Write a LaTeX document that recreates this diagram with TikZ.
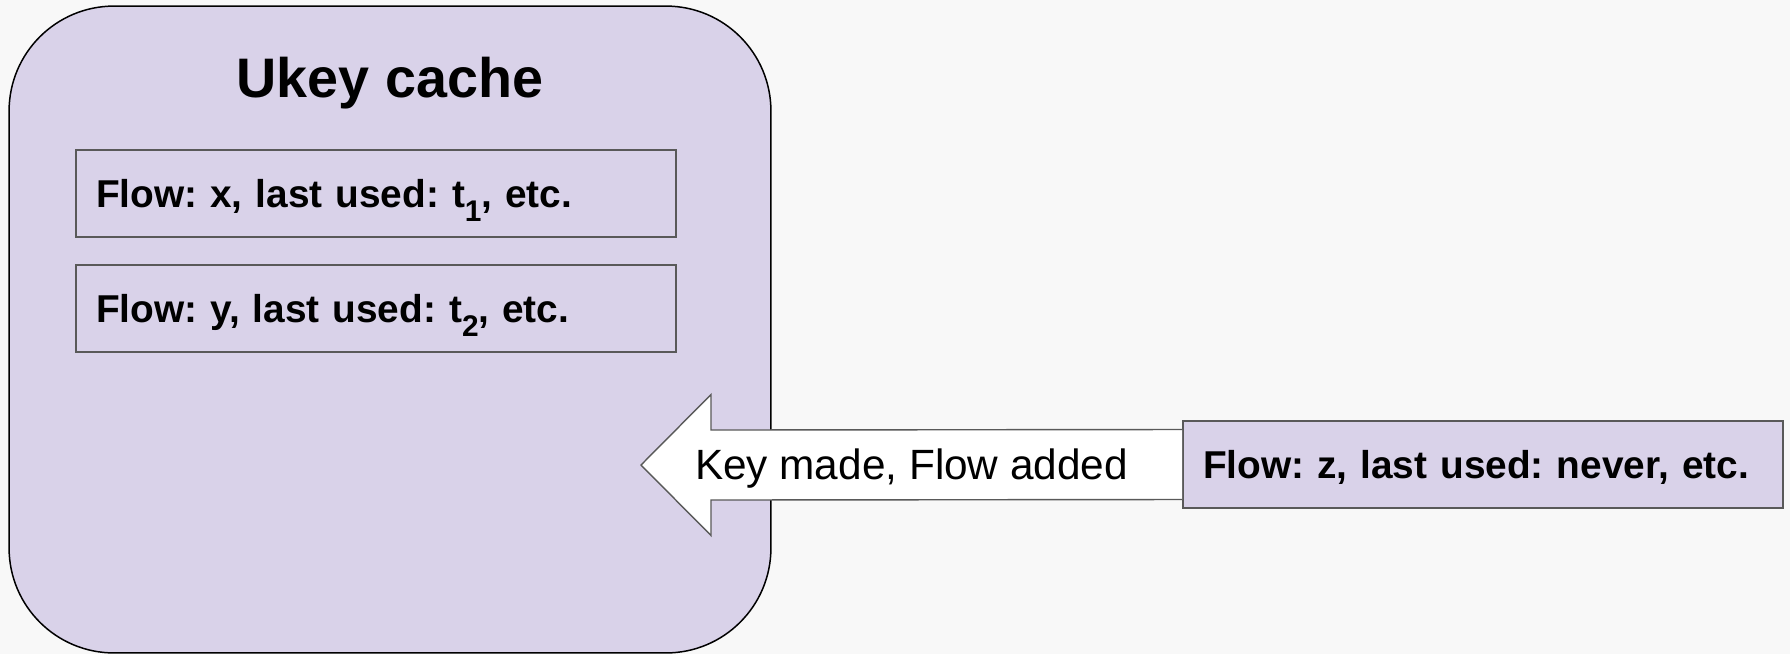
\documentclass[tikz,border=0pt]{standalone}
\usepackage{fontspec}
\setmainfont{Liberation Sans}
\usetikzlibrary{calc}
\definecolor{lavenderuk}{RGB}{217,210,233}
\definecolor{latarabu}{RGB}{248,248,248}
\definecolor{garisabu}{RGB}{89,89,89}
\frenchspacing
% low, fairly large subscript for the time stamps
\newcommand{\subwaktu}[1]{\raisebox{-8.5pt}{\fontsize{17}{18}\selectfont #1}}

\tikzset{
    kotakalir/.style={draw=garisabu, line width=1.1pt, fill=lavenderuk,
        font=\fontsize{22.1}{26}\selectfont\bfseries,
        text width=11.2cm, inner xsep=0.4cm, align=left,
        minimum height=1.74cm, text height=0.7cm, text depth=0.16cm},
    panahblok/.style={draw=garisabu, line width=0.8pt, fill=white}
}

\begin{document}
\begin{tikzpicture}[x=0.02cm, y=-0.02cm, font=\fontsize{22.1}{26}\selectfont]
        \fill[latarabu] (0,0) rectangle (1790,654);
        \useasboundingbox (0,0) rectangle (1790,654);
        % the cache itself
        \node[draw=black, line width=0.85pt, fill=lavenderuk, rounded corners=2.1cm,
              minimum width=15.24cm, minimum height=12.94cm] (cache) at (390,329.5) {};
        \node[anchor=base, font=\fontsize{31.7}{38}\selectfont\bfseries] (judul) at (390,97) {Ukey cache};
        \foreach \y/\teks/\nama in {
            193.5/{Flow: x, last used: t\subwaktu{1}, etc.}/alirx,
            308.5/{Flow: y, last used: t\subwaktu{2}, etc.}/aliry}
        {
            \node[kotakalir] (\nama) at (376,\y) {\teks};
        }
        % new flow coming in
        \node[kotakalir] (alirz) at (1483,464.5) {Flow: z, last used: never, etc.};
        \coordinate (ujung) at (641,465);
        \draw[panahblok] ($(alirz.west)+(0,-35)$) -- ($(ujung)+(70,-35)$) -- ($(ujung)+(70,-70.5)$)
            -- (ujung) -- ($(ujung)+(70,70.5)$) -- ($(ujung)+(70,35)$) -- ($(alirz.west)+(0,35)$);
        \node[font=\fontsize{24.1}{28}\selectfont, text height=0.75cm, text depth=0.17cm]
            (ketpanah) at ($(ujung)!0.5!(alirz.west)$) {Key made, Flow added};
    \end{tikzpicture}
\end{document}
